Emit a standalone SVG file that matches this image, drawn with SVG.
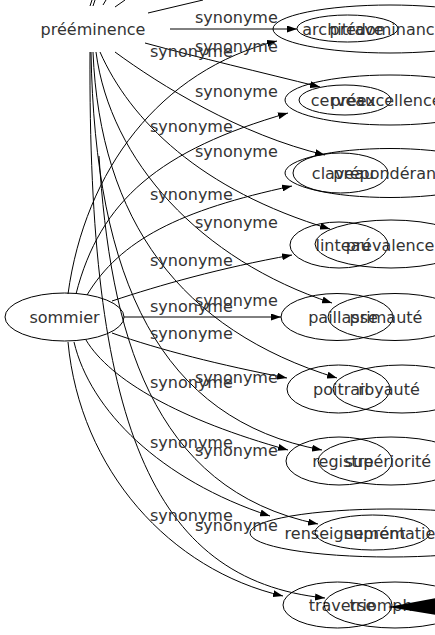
<svg xmlns="http://www.w3.org/2000/svg" width="435" height="635" viewBox="0 0 435 635">
<style>
text{font-family:"DejaVu Sans",Verdana,sans-serif;font-size:16px;fill:#333}
.n ellipse{fill:none;stroke:#000;stroke-width:1}
.e path{fill:none;stroke:#000;stroke-width:1}
.m{text-anchor:middle}
</style>
<defs>
<marker id="a" markerWidth="10" markerHeight="7" refX="10" refY="3.5" orient="auto" markerUnits="userSpaceOnUse"><path d="M0,0L10,3.5L0,7z" fill="#000"/></marker>
</defs>
<rect width="435" height="635" fill="#fff"/>
<g class="e">
<path d="M90,6L92,0M93,6L95,0M103,5L106,0M115,7L125,0M148,13L203,0"/>
<g marker-end="url(#a)">
<path d="M68,294C85,170 160,70 277,41"/>
<path d="M76,294C100,200 160,150 288,113"/>
<path d="M87,295C120,240 180,210 292,186"/>
<path d="M112,301C160,285 220,268 292,255"/>
<path d="M124,317L281,317"/>
<path d="M112,333C160,350 220,365 287,378"/>
<path d="M86,340C110,380 180,420 288,450"/>
<path d="M74,342C90,410 160,480 270,516"/>
<path d="M68,342C80,470 170,570 283,596"/>
<path d="M170,29L297,29"/>
<path d="M145,43C200,58 260,72 320,87"/>
<path d="M115,52C160,85 240,135 325,155"/>
<path d="M100,52C130,120 200,190 330,229"/>
<path d="M96,52C110,160 200,260 332,303"/>
<path d="M93,52C100,220 180,330 337,378"/>
<path d="M91,52C95,280 160,420 322,450"/>
<path d="M99,156C110,330 150,490 318,524"/>
<path d="M90,52C88,420 150,580 325,598"/>
</g>
</g>
<g id="preeminence" class="n"><text class="m" x="93" y="35">prééminence</text></g>
<g id="sommier" class="n"><ellipse cx="64.5" cy="317" rx="59.5" ry="24"/><text class="m" x="64.5" y="323">sommier</text></g>
<g id="architrave" class="n"><ellipse cx="390" cy="29" rx="117" ry="24"/><text class="m" x="343" y="35">architrave</text></g>
<g id="predominance" class="n"><ellipse cx="347.5" cy="28.5" rx="50.5" ry="13.5"/><text class="m" x="387" y="35">prédominance</text></g>
<g id="cerveau" class="n"><ellipse cx="390" cy="100" rx="105" ry="25"/><text class="m" x="343" y="106">cerveau</text></g>
<g id="preexcellence" class="n"><ellipse cx="345" cy="100" rx="46" ry="15"/><text class="m" x="386" y="106">préexcellence</text></g>
<g id="claveau" class="n"><ellipse cx="390" cy="173" rx="105" ry="24.5"/><text class="m" x="343" y="179">claveau</text></g>
<g id="preponderance" class="n"><ellipse cx="340.5" cy="173" rx="47.5" ry="20"/><text class="m" x="394" y="179">prépondérance</text></g>
<g id="linteau" class="n"><ellipse cx="339" cy="245" rx="49" ry="23"/><text class="m" x="343" y="251">linteau</text></g>
<g id="prevalence" class="n"><ellipse cx="391" cy="244" rx="76" ry="24"/><text class="m" x="390" y="251">prévalence</text></g>
<g id="paillasse" class="n"><ellipse cx="337" cy="317" rx="56" ry="23.5"/><text class="m" x="343" y="323">paillasse</text></g>
<g id="primaute" class="n"><ellipse cx="395" cy="317" rx="67" ry="23.5"/><text class="m" x="386" y="323">primauté</text></g>
<g id="poitrail" class="n"><ellipse cx="338.5" cy="389" rx="51.5" ry="24"/><text class="m" x="341" y="395">poitrail</text></g>
<g id="royaute" class="n"><ellipse cx="402" cy="389" rx="69" ry="24"/><text class="m" x="389" y="395">royauté</text></g>
<g id="registre" class="n"><ellipse cx="339" cy="461" rx="53" ry="24"/><text class="m" x="343" y="467">registre</text></g>
<g id="superiorite" class="n"><ellipse cx="391" cy="461" rx="73" ry="24"/><text class="m" x="388" y="467">supériorité</text></g>
<g id="renseignement" class="n"><ellipse cx="390" cy="533" rx="140" ry="24"/><text class="m" x="345" y="539">renseignement</text></g>
<g id="suprematie" class="n"><ellipse cx="372.5" cy="532.5" rx="57.5" ry="17.5"/><text class="m" x="390" y="539">suprématie</text></g>
<g id="traverse" class="n"><ellipse cx="337.5" cy="605" rx="54.5" ry="23"/><text class="m" x="342" y="611">traverse</text></g>
<g id="triomphe" class="n"><ellipse cx="395" cy="605" rx="71" ry="23"/><text class="m" x="386" y="611">triomphe</text><polygon points="388,607 436,598 436,615" fill="#000"/></g>
<g id="labels">
<text x="195" y="23">synonyme</text>
<text x="150" y="57">synonyme</text>
<text x="195" y="52">synonyme</text>
<text x="195" y="97">synonyme</text>
<text x="150" y="132">synonyme</text>
<text x="195" y="157">synonyme</text>
<text x="150" y="200">synonyme</text>
<text x="195" y="228">synonyme</text>
<text x="150" y="266">synonyme</text>
<text x="195" y="306">synonyme</text>
<text x="150" y="312">synonyme</text>
<text x="150" y="339">synonyme</text>
<text x="195" y="383">synonyme</text>
<text x="150" y="388">synonyme</text>
<text x="150" y="448">synonyme</text>
<text x="195" y="456">synonyme</text>
<text x="150" y="521">synonyme</text>
<text x="195" y="531">synonyme</text>
</g>
</svg>
